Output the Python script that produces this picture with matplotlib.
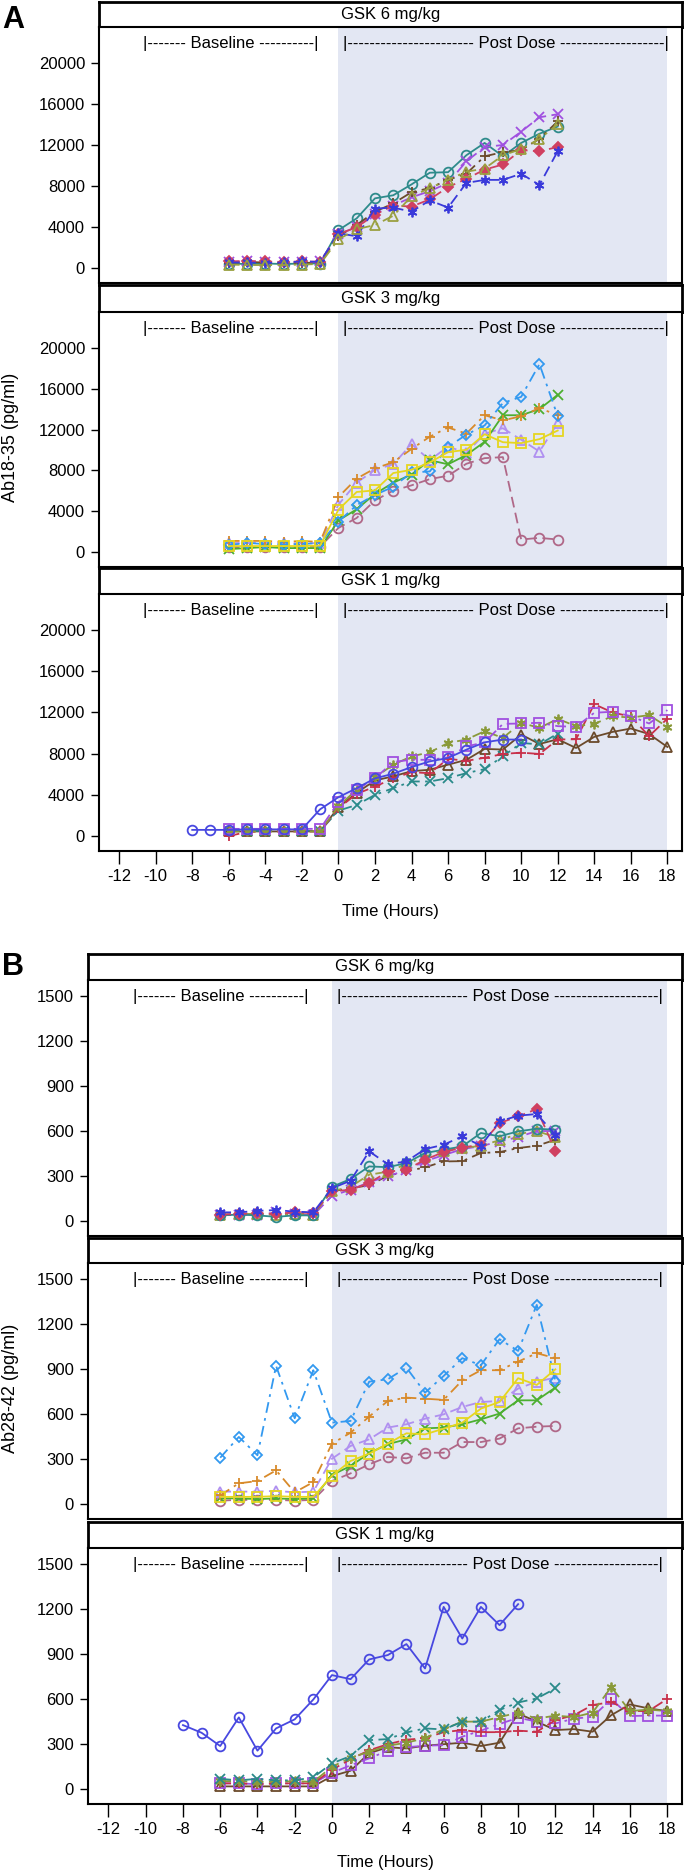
import matplotlib.pyplot as plt
import numpy as np

plt.rcParams['font.family'] = ['Liberation Sans', 'DejaVu Sans']
plt.rcParams['axes.unicode_minus'] = False

# time axes (hours)
hours_to_12 = list(range(-6, 13))
hours_to_18 = list(range(-6, 19))
hours_long = list(range(-8, 11))

# ---- Ab18-35 (pg/ml), panel A ----
a6_teal_circle = [450, 400, 450, 400, 450, 450, 3700, 4850, 6800, 7100, 8160, 9300, 9350, 11000, 12200, 10900, 12200, 13100, 13800]
a6_purple_x = [600, 650, 600, 550, 600, 650, 3300, 4000, 5300, 6100, 6900, 7500, 8300, 10400, 11800, 12000, 13300, 14700, 15000]
a6_brown_plus = [500, 600, 550, 500, 500, 550, 3100, 4200, 5500, 6300, 7400, 7800, 8600, 9200, 10900, 11300, 11500, 12600, 14300]
a6_red_diamond = [650, 700, 650, 600, 650, 600, 3300, 4000, 5200, 6100, 6000, 6700, 7900, 8700, 9600, 10100, 11500, 11400, 11800]
a6_blue_star = [550, 550, 500, 550, 650, 600, 3400, 3100, 5800, 5900, 5500, 6600, 5900, 8300, 8600, 8600, 9200, 8100, 11400]
a6_olive_tri = [350, 300, 300, 300, 350, 400, 2800, 3800, 4200, 5100, 7000, 7800, 8600, 9400, 9700, 11000, 11600, 12600, 14000]

a3_lblue_diamond = [700, 900, 800, 750, 800, 900, 3000, 4600, 5600, 6400, 7800, 7900, 10300, 11500, 12400, 14600, 15200, 18400, 13300]
a3_orange_plus = [1100, 1100, 1100, 1000, 1100, 1000, 5400, 7200, 8200, 8800, 10100, 11300, 12200, 11600, 13400, 12900, 13300, 14100, 13400]
a3_green_x = [300, 400, 500, 400, 400, 400, 3100, 4200, 5700, 6800, 7600, 9000, 8600, 9500, 10800, 13400, 13400, 14000, 15400]
a3_lav_tri = [900, 900, 900, 900, 850, 900, 4650, 6800, 8060, 8600, 10570, 9000, 10340, 9700, 11580, 12130, 11000, 9850, 12620]
a3_yellow_sq = [600, 600, 600, 600, 600, 650, 4160, 5890, 6050, 7740, 8060, 8780, 9790, 10020, 11540, 10760, 10670, 11060, 11900]
a3_mauve_circle = [500, 500, 550, 500, 500, 550, 2370, 3350, 5070, 6020, 6540, 7150, 7480, 8650, 9200, 9300, 1240, 1400, 1240]

a1_blue_circle = [600, 600, 600, 650, 650, 650, 650, 2600, 3770, 4650, 5600, 6050, 6700, 7250, 7580, 8390, 9100, 9370, 9370]
a1_red_plus = [0, 400, 450, 450, 450, 450, 2700, 4100, 4800, 5600, 6200, 6100, 7500, 7300, 7600, 7970, 8100, 7970, 9370, 9400, 12800, 12000, 11600, 9700, 11400]
a1_teal_x = [500, 500, 500, 500, 500, 500, 2470, 3020, 4000, 4650, 5300, 5300, 5620, 6110, 6500, 7740, 9040, 8900, 9950]
a1_brown_tri = [450, 450, 450, 450, 450, 450, 2800, 4200, 5400, 5800, 6300, 6440, 6930, 7400, 8460, 8400, 9850, 8940, 9400, 8550, 9630, 10110, 10440, 9900, 8650]
a1_purple_sq = [700, 700, 700, 700, 700, 700, 3300, 4500, 5600, 7190, 7410, 7400, 7640, 8700, 9100, 10890, 10930, 11000, 10670, 10600, 11970, 12070, 11640, 10930, 12230]
a1_olive_star = [450, 450, 450, 450, 450, 450, 2900, 4500, 5700, 6930, 7740, 8130, 9040, 9370, 10180, 9530, 10990, 10500, 11380, 10670, 10890, 11640, 11500, 11740, 10600]

# ---- Ab28-42 (pg/ml), panel B ----
b6_blue_star = [60, 60, 70, 75, 65, 60, 220, 270, 465, 380, 398, 480, 509, 565, 502, 664, 702, 713, 575]
b6_red_diamond = [45, 50, 55, 50, 60, 55, 200, 210, 255, 330, 343, 410, 460, 490, 510, 653, 697, 746, 469]
b6_teal_circle = [40, 45, 40, 30, 40, 40, 230, 281, 365, 360, 387, 454, 476, 498, 587, 565, 598, 615, 609]
b6_brown_plus = [40, 45, 50, 45, 45, 50, 200, 220, 240, 303, 332, 359, 398, 400, 454, 460, 487, 502, 542]
b6_purple_x = [40, 45, 40, 60, 50, 40, 170, 210, 260, 300, 340, 400, 440, 480, 500, 530, 560, 600, 600]
b6_olive_tri = [45, 50, 50, 45, 50, 45, 200, 230, 310, 330, 380, 430, 470, 490, 500, 540, 580, 600, 560]

b3_lblue_diamond = [310, 448, 326, 920, 572, 891, 543, 554, 815, 831, 908, 742, 853, 971, 924, 1097, 1019, 1325, 820]
b3_orange_plus = [60, 140, 155, 226, 80, 148, 403, 476, 583, 687, 709, 702, 694, 824, 891, 891, 948, 1004, 971]
b3_lav_tri = [85, 85, 85, 90, 80, 85, 303, 388, 432, 510, 532, 569, 598, 647, 680, 687, 769, 815, 842]
b3_yellow_sq = [50, 50, 50, 55, 50, 50, 190, 288, 337, 403, 472, 465, 503, 543, 636, 680, 838, 793, 897]
b3_green_x = [40, 40, 35, 40, 35, 40, 195, 255, 340, 400, 432, 505, 510, 532, 565, 603, 691, 691, 776]
b3_mauve_circle = [25, 30, 30, 30, 25, 30, 155, 206, 266, 315, 306, 343, 343, 414, 414, 437, 505, 516, 521]

b1_blue_circle = [427, 376, 288, 478, 257, 405, 465, 597, 759, 732, 863, 892, 965, 803, 1212, 1002, 1212, 1091, 1230]
b1_teal_x = [70, 60, 70, 60, 60, 80, 173, 221, 327, 334, 378, 405, 398, 449, 450, 527, 577, 604, 670]
b1_red_plus = [40, 40, 35, 40, 40, 40, 130, 200, 260, 300, 330, 340, 380, 394, 380, 380, 390, 383, 460, 493, 560, 580, 520, 520, 600]
b1_olive_star = [55, 55, 50, 50, 55, 50, 150, 210, 250, 290, 310, 340, 400, 450, 450, 480, 510, 470, 490, 480, 510, 680, 520, 530, 520]
b1_purple_sq = [40, 40, 35, 40, 40, 40, 110, 160, 206, 257, 280, 290, 294, 350, 390, 434, 476, 450, 438, 470, 482, 600, 487, 490, 490]
b1_brown_tri = [20, 20, 20, 20, 20, 20, 88, 124, 240, 280, 272, 290, 300, 310, 288, 310, 504, 450, 394, 400, 383, 493, 564, 538, 520]

dose_labels = ["GSK 6 mg/kg", "GSK 3 mg/kg", "GSK 1 mg/kg"]
x_ticks = list(range(-12, 19, 2))
a_yticks = [0, 4000, 8000, 12000, 16000, 20000]
b_yticks = [0, 300, 600, 900, 1200, 1500]

# line styles
SOLID = '-'
DASH = (0, (6, 3))
DASHDOT = (0, (6, 3, 1.5, 3))
STAR = (6, 2, 0)

# (color, marker, linestyle, filled)
st_teal_circle = ('#2E8B8B', 'o', SOLID, False)
st_purple_x = ('#A050E0', 'x', DASH, False)
st_brown_plus = ('#6B4A2B', '+', DASHDOT, False)
st_red_diamond = ('#D04060', 'D', DASH, True)
st_blue_star = ('#3A3ADA', STAR, DASH, False)
st_olive_tri = ('#9AA040', '^', DASHDOT, False)
st_lblue_diamond = ('#3399F0', 'D', DASHDOT, False)
st_orange_plus = ('#D88A2A', '+', DASHDOT, False)
st_green_x = ('#4CAF30', 'x', SOLID, False)
st_lav_tri = ('#B090F0', '^', DASH, False)
st_yellow_sq = ('#E6D620', 's', SOLID, False)
st_mauve_circle = ('#B06888', 'o', DASH, False)
st_blue_circle = ('#4848E0', 'o', SOLID, False)
st_red_plus = ('#C8304A', '+', DASH, False)
st_teal_x = ('#2A8A8A', 'x', DASHDOT, False)
st_brown_tri = ('#6B4A2B', '^', SOLID, False)
st_purple_sq = ('#A050E0', 's', DASHDOT, False)
st_olive_star = ('#8A9A3A', STAR, DASH, False)

panel_a = [
    [(hours_to_12, a6_teal_circle, st_teal_circle), (hours_to_12, a6_purple_x, st_purple_x),
     (hours_to_12, a6_brown_plus, st_brown_plus), (hours_to_12, a6_red_diamond, st_red_diamond),
     (hours_to_12, a6_blue_star, st_blue_star), (hours_to_12, a6_olive_tri, st_olive_tri)],
    [(hours_to_12, a3_mauve_circle, st_mauve_circle), (hours_to_12, a3_lav_tri, st_lav_tri),
     (hours_to_12, a3_green_x, st_green_x), (hours_to_12, a3_orange_plus, st_orange_plus),
     (hours_to_12, a3_lblue_diamond, st_lblue_diamond), (hours_to_12, a3_yellow_sq, st_yellow_sq)],
    [(hours_to_18, a1_brown_tri, st_brown_tri), (hours_to_12, a1_teal_x, st_teal_x),
     (hours_to_18, a1_red_plus, st_red_plus), (hours_to_18, a1_olive_star, st_olive_star),
     (hours_to_18, a1_purple_sq, st_purple_sq), (hours_long, a1_blue_circle, st_blue_circle)],
]
panel_b = [
    [(hours_to_12, b6_brown_plus, st_brown_plus), (hours_to_12, b6_purple_x, st_purple_x),
     (hours_to_12, b6_olive_tri, st_olive_tri), (hours_to_12, b6_teal_circle, st_teal_circle),
     (hours_to_12, b6_red_diamond, st_red_diamond), (hours_to_12, b6_blue_star, st_blue_star)],
    [(hours_to_12, b3_mauve_circle, st_mauve_circle), (hours_to_12, b3_green_x, st_green_x),
     (hours_to_12, b3_lav_tri, st_lav_tri), (hours_to_12, b3_orange_plus, st_orange_plus),
     (hours_to_12, b3_lblue_diamond, st_lblue_diamond), (hours_to_12, b3_yellow_sq, st_yellow_sq)],
    [(hours_to_18, b1_brown_tri, st_brown_tri), (hours_to_18, b1_purple_sq, st_purple_sq),
     (hours_to_18, b1_red_plus, st_red_plus), (hours_to_18, b1_olive_star, st_olive_star),
     (hours_to_12, b1_teal_x, st_teal_x), (hours_long, b1_blue_circle, st_blue_circle)],
]

W, H = 685, 1875
fig = plt.figure(figsize=(W / 100, H / 100), dpi=100)


def px_axes(left, top, right, bottom):
    return fig.add_axes([left / W, 1 - bottom / H, (right - left) / W, (bottom - top) / H])


def draw_strip(left, top, right, bottom, label):
    ax = px_axes(left, top, right, bottom)
    ax.set_xticks([])
    ax.set_yticks([])
    for sp in ax.spines.values():
        sp.set_linewidth(2.0)
    ax.text(0.5, 0.5, label, transform=ax.transAxes, ha='center', va='center', fontsize=12)


def draw_panel(left, top, right, bottom, series, ylim, yticks, bottom_row):
    ax = px_axes(left, top, right, bottom)
    ax.axvspan(0, 18, color='#E3E7F3', zorder=0, lw=0)
    for hours, vals, (color, marker, ls, filled) in series:
        ms = 5 if marker == 'D' else 7
        ax.plot(hours, vals, color=color, lw=1.3, ls=ls, marker=marker, ms=ms,
                mfc=color if filled else 'none', mec=color, mew=1.3, zorder=3)
    ax.set_xlim(-13.1, 18.8)
    ax.set_ylim(*ylim)
    ax.set_yticks(yticks)
    ax.tick_params(axis='y', length=6, width=1, pad=4, labelsize=12)
    if bottom_row:
        ax.set_xticks(x_ticks)
        ax.tick_params(axis='x', length=9, width=1, pad=4, labelsize=12)
    else:
        ax.set_xticks([])
    for sp in ax.spines.values():
        sp.set_linewidth(1.5)
    ax.text(-10.7, 0.935, "|------- Baseline ----------|", transform=ax.get_xaxis_transform(),
            ha='left', va='center', fontsize=12)
    ax.text(0.26, 0.935, "|----------------------- Post Dose -------------------|",
            transform=ax.get_xaxis_transform(), ha='left', va='center', fontsize=12)
    return ax


# panel A
a_rows = [(2, 27, 283), (285, 312, 567), (568, 594, 851)]
for i, (s_top, p_top, p_bot) in enumerate(a_rows):
    draw_strip(99, s_top, 682, p_top, dose_labels[i])
    draw_panel(99, p_top, 682, p_bot, panel_a[i], (-1450, 23500), a_yticks, i == 2)

# panel B
b_rows = [(954, 980, 1236), (1238, 1263, 1519), (1522, 1548, 1804)]
for i, (s_top, p_top, p_bot) in enumerate(b_rows):
    draw_strip(88, s_top, 682, p_top, dose_labels[i])
    draw_panel(88, p_top, 682, p_bot, panel_b[i], (-97, 1603), b_yticks, i == 2)

fig.text(390 / W, 1 - 912 / H, "Time (Hours)", ha='center', va='center', fontsize=12)
fig.text(385 / W, 1 - 1863 / H, "Time (Hours)", ha='center', va='center', fontsize=12)
fig.text(11 / W, 1 - 437 / H, "Ab18-35 (pg/ml)", rotation=90, ha='center', va='center', fontsize=13)
fig.text(11 / W, 1 - 1388 / H, "Ab28-42 (pg/ml)", rotation=90, ha='center', va='center', fontsize=13)
fig.text(2 / W, 1 - 20 / H, "A", ha='left', va='center', fontsize=22, fontweight='bold')
fig.text(2 / W, 1 - 967 / H, "B", ha='left', va='center', fontsize=22, fontweight='bold')

fig.savefig('out.png', dpi=100)
